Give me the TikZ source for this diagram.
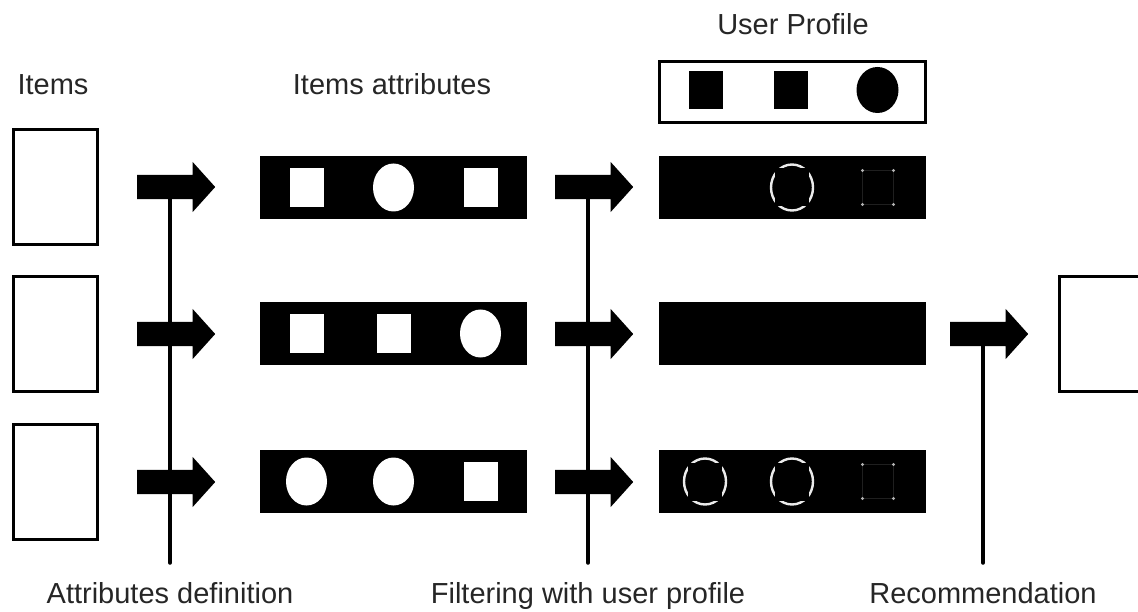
\documentclass[tikz,border=0pt]{standalone}
\usepackage{fontspec}
\setmainfont{Liberation Sans}
\usetikzlibrary{positioning, shapes.geometric, shapes.arrows}
\tikzset{
x=1pt, y=-1pt, % pixel-like units, y grows downward
every node/.style={inner sep=0pt},
lbl/.style={text=black!85, font=\fontsize{29pt}{34pt}\selectfont}, % text labels
item/.style={draw, line width=3pt, minimum width=84pt, minimum height=115pt}, % item boxes
bar/.style={fill=black, minimum width=267pt, minimum height=63pt}, % attribute bars
wsq/.style={fill=white, minimum width=34pt, minimum height=39pt}, % white square
wcirc/.style={ellipse, fill=white, minimum width=41pt, minimum height=48pt}, % white circle
bsq/.style={fill=black, minimum width=34pt, minimum height=38pt}, % black square
bcirc/.style={ellipse, fill=black, minimum width=42pt, minimum height=46pt}, % black circle
ring/.style={ellipse, draw=white!92!black, line width=2.4pt, minimum width=42pt, minimum height=46pt}, % circle left after filtering
blockarrow/.style={single arrow, fill=black, inner xsep=0pt, inner ysep=12pt, minimum height=78pt, minimum width=50pt, single arrow head extend=13pt, single arrow tip angle=96, anchor=tail}, % fat arrows
vline/.style={line width=3.5pt, line cap=round}, % step lines
ghost/.pic={
  \draw[black!88, line width=0.6pt] (-15.5,-17) rectangle (15.5,17);
  \foreach \sx in {-1,1} \foreach \sy in {-1,1} \fill[white!70!black] (15.5*\sx,17*\sy) circle (1.6pt);
}, % square left after filtering
}

\begin{document}
\begin{tikzpicture}
\useasboundingbox (0,0) rectangle (1138,612);
\clip (0,0) rectangle (1138,612);
% titles
\node[lbl, anchor=base] (items) at (53,95) {Items};
\node[lbl, anchor=base] (attrs) at (392,95) {Items attributes};
\node[lbl, anchor=base] (prof) at (793,35) {User Profile};
% items
\node[item] (it1) at (55.5,187) {};
\node[item] (it2) at (55.5,334) {};
\node[item] (it3) at (55.5,482) {};
% step arrows
\node[blockarrow] (ad1) at (137,187) {};
\node[blockarrow] (ad2) at (137,334) {};
\node[blockarrow] (ad3) at (137,482) {};
\node[blockarrow] (fw1) at (555,187) {};
\node[blockarrow] (fw2) at (555,334) {};
\node[blockarrow] (fw3) at (555,482) {};
\node[blockarrow] (rc) at (950,334) {};
% attribute bars
\node[bar] (at1) at (393.5,187.5) {};
\node[wsq] (at1a) at ([xshift=-87pt]at1.center) {};
\node[wcirc] (at1b) at (at1.center) {};
\node[wsq] (at1c) at ([xshift=87pt]at1.center) {};
\node[bar] (at2) at (393.5,333.5) {};
\node[wsq] (at2a) at ([xshift=-87pt]at2.center) {};
\node[wsq] (at2b) at (at2.center) {};
\node[wcirc] (at2c) at ([xshift=87pt]at2.center) {};
\node[bar] (at3) at (393.5,481.5) {};
\node[wcirc] (at3a) at ([xshift=-87pt]at3.center) {};
\node[wcirc] (at3b) at (at3.center) {};
\node[wsq] (at3c) at ([xshift=87pt]at3.center) {};
% user profile
\node[draw, line width=3pt, minimum width=266pt, minimum height=61pt] (up) at (792.5,92) {};
\node[bsq] (up1) at (705.5,90.5) {};
\node[bsq] (up2) at (791,90.5) {};
\node[bcirc] (up3) at (877.5,90) {};
% filtered bars
\node[bar] (fl1) at (792,187.5) {};
\node[ring] (fl1b) at (fl1.center) {};
\node[bsq] (fl1bs) at (fl1b) {};
\pic at ([xshift=86pt]fl1.center) {ghost};
\node[bar] (fl2) at (792,333.5) {};
\node[bar] (fl3) at (792,481.5) {};
\node[ring] (fl3a) at ([xshift=-87pt]fl3.center) {};
\node[bsq] (fl3as) at (fl3a) {};
\node[ring] (fl3b) at (fl3.center) {};
\node[bsq] (fl3bs) at (fl3b) {};
\pic at ([xshift=86pt]fl3.center) {ghost};
% recommended item
\node[item, anchor=west] (rec) at (1058,334) {};
% step lines and their names
\coordinate (e1) at (170,563);
\coordinate (e2) at (588,563);
\coordinate (e3) at (983,563);
\draw[vline] (ad1.tail -| e1) -- (e1);
\draw[vline] (fw1.tail -| e2) -- (e2);
\draw[vline] (rc.tail -| e3) -- (e3);
\node[lbl, below=19pt of e1] (def) {Attributes definition};
\node[lbl, below=19pt of e2] (filt) {Filtering with user profile};
\node[lbl, below=19pt of e3] (recl) {Recommendation};
\end{tikzpicture}
\end{document}
